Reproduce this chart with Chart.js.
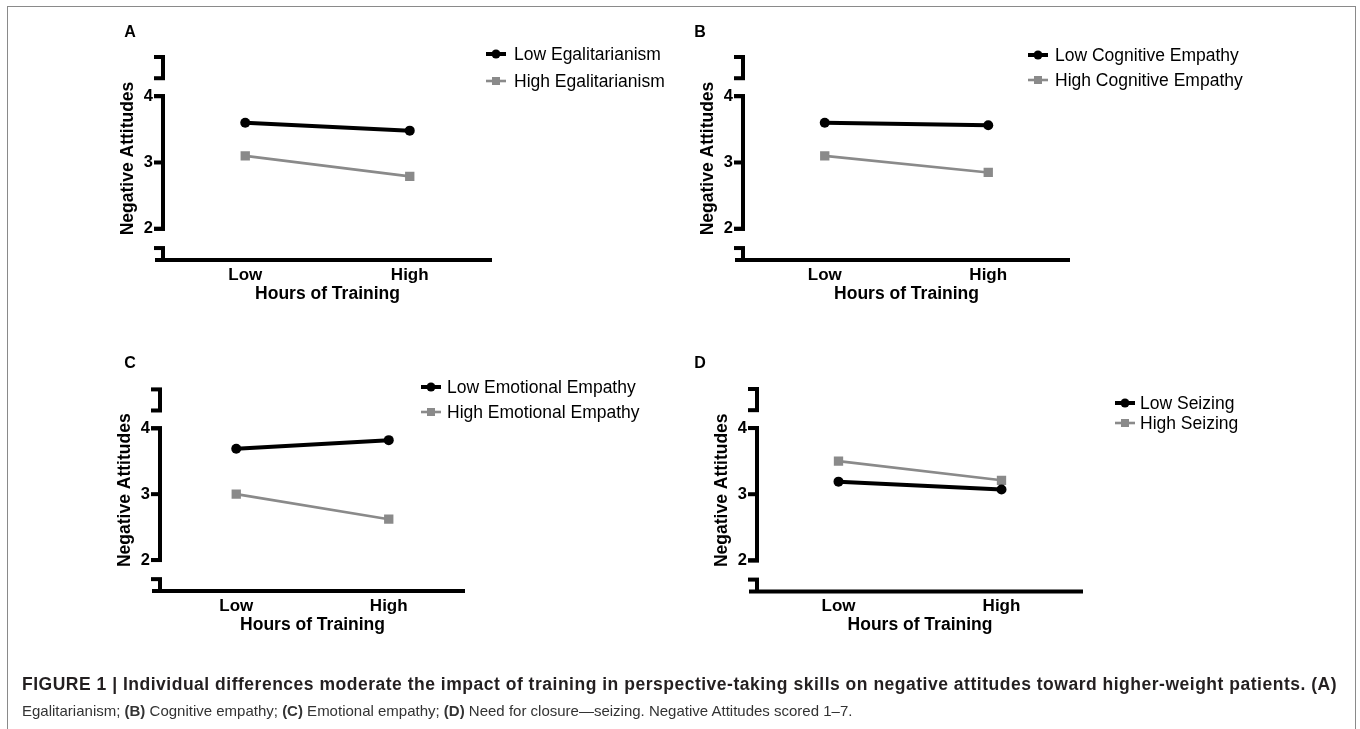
<!DOCTYPE html>
<html>
<head>
<meta charset="utf-8">
<script src="https://cdn.jsdelivr.net/npm/chart.js@4.4.1/dist/chart.umd.min.js"></script>
<style>
  html, body { margin: 0; padding: 0; background: #fff; width: 1360px; height: 729px; overflow: hidden; }
  canvas { position: absolute; left: 0; top: 0; }
  #frame { position: absolute; left: 7px; top: 6px; width: 1347px; height: 760px; border: 1px solid #8a8a8a; border-bottom: none; }
  .cap { position: absolute; left: 22px; white-space: nowrap; font-family: "Liberation Sans", Arial, Helvetica, sans-serif; color: #231f20; line-height: 20px; }
  #cap1 { top: 674px; font-size: 17.5px; font-weight: bold; }
  #cap2 { top: 701px; font-size: 15px; color: #333; }
</style>
</head>
<body>
<div id="frame"></div>
<canvas id="cA" width="1360" height="729"></canvas>
<canvas id="cB" width="1360" height="729"></canvas>
<canvas id="cC" width="1360" height="729"></canvas>
<canvas id="cD" width="1360" height="729"></canvas>
<div class="cap" id="cap1">FIGURE 1 | Individual differences moderate the impact of training in perspective-taking skills on negative attitudes toward higher-weight patients. (A)</div>
<div class="cap" id="cap2">Egalitarianism; <b>(B)</b> Cognitive empathy; <b>(C)</b> Emotional empathy; <b>(D)</b> Need for closure—seizing. Negative Attitudes scored 1–7.</div>
<script>
// ---------------- DATA ----------------
const categories = ['Low', 'High'];
const yTickValues = [2, 3, 4];
const xAxisTitle = 'Hours of Training';
const yAxisTitle = 'Negative Attitudes';
const panelLetters = ['A', 'B', 'C', 'D'];

const lowEgalitarianism  = [3.60, 3.48];
const highEgalitarianism = [3.10, 2.79];

const lowCognitiveEmpathy  = [3.60, 3.56];
const highCognitiveEmpathy = [3.10, 2.85];

const lowEmotionalEmpathy  = [3.69, 3.82];
const highEmotionalEmpathy = [3.00, 2.62];

const lowSeizing  = [3.19, 3.07];
const highSeizing = [3.50, 3.21];

const seriesNamesA = ['Low Egalitarianism', 'High Egalitarianism'];
const seriesNamesB = ['Low Cognitive Empathy', 'High Cognitive Empathy'];
const seriesNamesC = ['Low Emotional Empathy', 'High Emotional Empathy'];
const seriesNamesD = ['Low Seizing', 'High Seizing'];

// axis range and broken-axis segments (axis units)
const yRange = [1.53, 4.59];
const ySegments = [[1.53, 1.71], [2, 4], [4.27, 4.59]];

// ---------------- STYLE / LAYOUT ----------------
const FONT = '"Liberation Sans", Arial, Helvetica, sans-serif';
const BLACK = '#000000';
const GRAY = '#8a8a8a';

const layouts = [
  { area: { left: 163, right: 492, top: 57, bottom: 260 },    letter: [130, 33],  markerX: 496,  textX: 514,  legendY: [54, 81] },
  { area: { left: 743, right: 1070, top: 57, bottom: 260 },   letter: [700, 33],  markerX: 1038, textX: 1055, legendY: [55, 80] },
  { area: { left: 160, right: 465, top: 389.4, bottom: 591 }, letter: [130, 364], markerX: 431,  textX: 447,  legendY: [387, 412] },
  { area: { left: 757, right: 1083, top: 389, bottom: 591.5 }, letter: [700, 364], markerX: 1125, textX: 1140, legendY: [403, 423] }
];

const brokenAxisPlugin = {
  id: 'brokenAxis',
  beforeDatasetsDraw(chart) {
    const ctx = chart.ctx;
    const ys = chart.scales.y;
    const ca = chart.chartArea;
    const x0 = ca.left;
    ctx.save();
    ctx.strokeStyle = BLACK;
    ctx.lineWidth = 4;
    ctx.lineCap = 'butt';
    ySegments.forEach(([a, b]) => {
      const pa = ys.getPixelForValue(a), pb = ys.getPixelForValue(b);
      ctx.beginPath();
      ctx.moveTo(x0, Math.max(pa, pb));
      ctx.lineTo(x0, Math.min(pa, pb));
      ctx.stroke();
      [a, b].forEach(v => {
        if (v === yRange[0]) return;
        const p = ys.getPixelForValue(v);
        ctx.beginPath();
        ctx.moveTo(x0 - 9, p);
        ctx.lineTo(x0 + 2, p);
        ctx.stroke();
      });
    });
    yTickValues.forEach(v => {
      const p = ys.getPixelForValue(v);
      ctx.beginPath();
      ctx.moveTo(x0 - 9, p);
      ctx.lineTo(x0 + 2, p);
      ctx.stroke();
    });
    const yb = ys.getPixelForValue(yRange[0]);
    ctx.beginPath();
    ctx.moveTo(x0 - 8, yb);
    ctx.lineTo(ca.right, yb);
    ctx.stroke();
    ctx.restore();
  }
};

const legendPlugin = {
  id: 'panelLegend',
  afterDraw(chart, args, opts) {
    const ctx = chart.ctx;
    const L = opts.layout;
    ctx.save();
    ctx.fillStyle = BLACK;
    ctx.font = 'bold 16px ' + FONT;
    ctx.textAlign = 'center';
    ctx.textBaseline = 'middle';
    ctx.fillText(opts.letter, L.letter[0], L.letter[1]);
    chart.data.datasets.forEach((ds, i) => {
      const y = L.legendY[i];
      const mx = L.markerX;
      ctx.strokeStyle = ds.borderColor;
      ctx.lineWidth = ds.borderWidth;
      ctx.beginPath();
      ctx.moveTo(mx - 10, y);
      ctx.lineTo(mx + 10, y);
      ctx.stroke();
      ctx.fillStyle = ds.backgroundColor;
      if (ds.pointStyle === 'circle') {
        ctx.beginPath();
        ctx.arc(mx, y, 4.5, 0, Math.PI * 2);
        ctx.fill();
      } else {
        ctx.fillRect(mx - 4, y - 4, 8, 8);
      }
      ctx.fillStyle = BLACK;
      ctx.font = '17.5px ' + FONT;
      ctx.textAlign = 'left';
      ctx.textBaseline = 'middle';
      ctx.fillText(ds.label, L.textX, y + 1);
    });
    ctx.restore();
  }
};

function buildPanel(canvasId, letter, names, low, high, L) {
  const a = L.area;
  const chart = new Chart(document.getElementById(canvasId), {
    type: 'line',
    data: {
      labels: categories,
      datasets: [
        { label: names[0], data: low, borderColor: BLACK, backgroundColor: BLACK, borderWidth: 4,
          pointStyle: 'circle', pointRadius: 5, pointBorderWidth: 0, pointBackgroundColor: BLACK, tension: 0 },
        { label: names[1], data: high, borderColor: GRAY, backgroundColor: GRAY, borderWidth: 2.6,
          pointStyle: 'rect', pointRadius: 6.6, pointBorderWidth: 0, pointBackgroundColor: GRAY, tension: 0 }
      ]
    },
    options: {
      responsive: false,
      animation: false,
      devicePixelRatio: 1,
      events: [],
      layout: { padding: { left: a.left - 50, right: 1360 - a.right, top: a.top, bottom: 729 - a.bottom - 45 } },
      plugins: {
        legend: { display: false },
        tooltip: { enabled: false },
        panelLegend: { letter: letter, layout: L }
      },
      scales: {
        x: {
          type: 'category',
          offset: true,
          grid: { display: false, drawTicks: false },
          border: { display: false },
          ticks: { padding: 5, color: BLACK, font: { family: FONT, size: 17, weight: 'bold' } },
          title: { display: true, text: xAxisTitle, color: BLACK, padding: { top: -7, bottom: 0 },
                   font: { family: FONT, size: 17.5, weight: 'bold' } }
        },
        y: {
          min: yRange[0],
          max: yRange[1],
          afterBuildTicks: s => { s.ticks = yTickValues.map(v => ({ value: v })); },
          grid: { display: false, drawTicks: false },
          border: { display: false },
          ticks: { padding: 10, color: BLACK, font: { family: FONT, size: 16.5, weight: 'bold' },
                   callback: v => String(v) },
          title: { display: true, text: yAxisTitle, color: BLACK, padding: { top: 0, bottom: -5 },
                   font: { family: FONT, size: 17.5, weight: 'bold' } }
        }
      }
    },
    plugins: [brokenAxisPlugin, legendPlugin]
  });
  for (let k = 0; k < 3; k++) {
    const ca = chart.chartArea;
    const pad = chart.config.options.layout.padding;
    chart.config.options.layout.padding = {
      left: pad.left + (a.left - ca.left),
      right: pad.right + (ca.right - a.right),
      top: pad.top + (a.top - ca.top),
      bottom: pad.bottom + (ca.bottom - a.bottom)
    };
    chart.update('none');
  }
  return chart;
}

buildPanel('cA', panelLetters[0], seriesNamesA, lowEgalitarianism, highEgalitarianism, layouts[0]);
buildPanel('cB', panelLetters[1], seriesNamesB, lowCognitiveEmpathy, highCognitiveEmpathy, layouts[1]);
buildPanel('cC', panelLetters[2], seriesNamesC, lowEmotionalEmpathy, highEmotionalEmpathy, layouts[2]);
buildPanel('cD', panelLetters[3], seriesNamesD, lowSeizing, highSeizing, layouts[3]);

(function () {
  const el = document.getElementById('cap1');
  const target = 1315;
  const w = el.getBoundingClientRect().width;
  const n = el.textContent.length;
  el.style.letterSpacing = ((target - w) / n).toFixed(3) + 'px';
})();
</script>
</body>
</html>
